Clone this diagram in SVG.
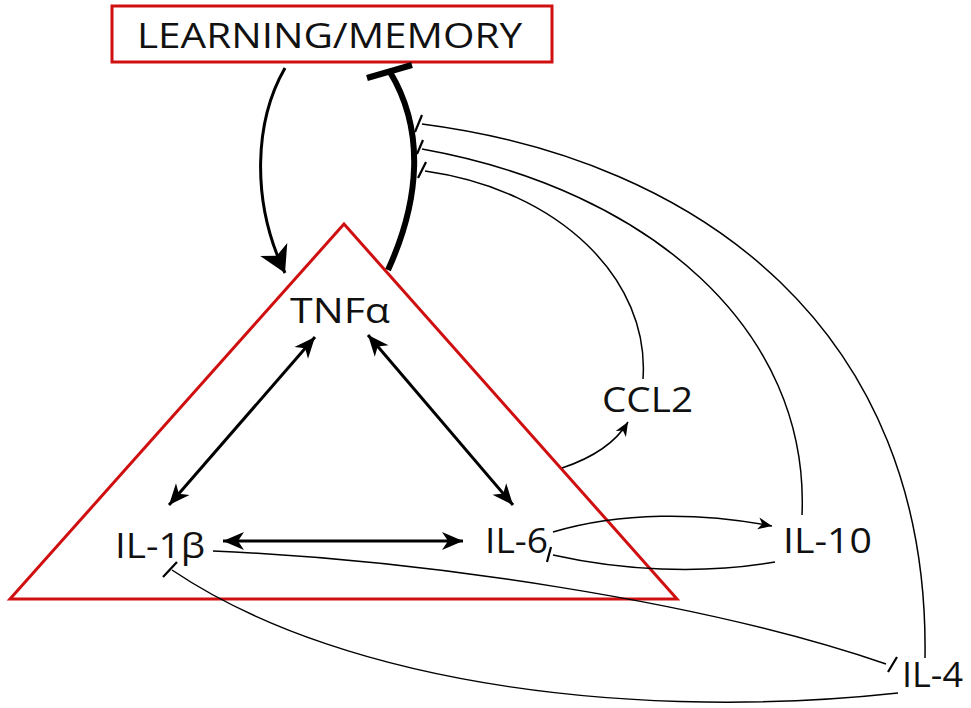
<svg xmlns="http://www.w3.org/2000/svg" width="971" height="708" viewBox="0 0 971 708">
<style>
.lbl{font-family:"Open Sans","Noto Sans","Liberation Sans",sans-serif;font-size:34px;fill:#111}
.red{fill:none;stroke:#d01010;stroke-width:3}
.thick{fill:none;stroke:#000;stroke-width:3}
.thin{fill:none;stroke:#000;stroke-width:1.5}
.bar{stroke:#000;stroke-width:2.2;stroke-linecap:butt}
</style>
<defs>
<marker id="big" markerUnits="userSpaceOnUse" markerWidth="40" markerHeight="40" viewBox="-30 -20 40 40" refX="0" refY="0" orient="auto-start-reverse" overflow="visible">
<path d="M0,0 L-26,-15 L-19,0 L-26,15 Z" fill="#000"/>
</marker>
<marker id="ah" markerUnits="userSpaceOnUse" markerWidth="30" markerHeight="30" viewBox="-25 -15 30 30" refX="0" refY="0" orient="auto-start-reverse" overflow="visible">
<path d="M0,0 L-21,-9 L-15,0 L-21,9 Z" fill="#000"/>
</marker>
<marker id="sm" markerUnits="userSpaceOnUse" markerWidth="20" markerHeight="20" viewBox="-15 -10 20 20" refX="0" refY="0" orient="auto" overflow="visible">
<path d="M0,0 L-14,-6 L-10,0 L-14,6 Z" fill="#000"/>
</marker>
</defs>

<g id="node-learning">
<rect x="112" y="6" width="440" height="56" class="red"/>
<text class="lbl" x="137" y="48" textLength="385" lengthAdjust="spacingAndGlyphs">LEARNING/MEMORY</text>
</g>
<g id="node-triangle">
<polygon points="344,224 10,599 677,599" class="red"/>
</g>
<g id="node-tnfa"><text class="lbl" x="290" y="323" textLength="100" lengthAdjust="spacingAndGlyphs">TNFα</text></g>
<g id="node-il1b"><text class="lbl" x="115" y="558" textLength="90" lengthAdjust="spacingAndGlyphs">IL-1β</text></g>
<g id="node-il6"><text class="lbl" x="485" y="553" textLength="63" lengthAdjust="spacingAndGlyphs">IL-6</text></g>
<g id="node-il10"><text class="lbl" x="783" y="553" textLength="89" lengthAdjust="spacingAndGlyphs">IL-10</text></g>
<g id="node-il4"><text class="lbl" x="902" y="687" textLength="61" lengthAdjust="spacingAndGlyphs">IL-4</text></g>
<g id="node-ccl2"><text class="lbl" x="602" y="412" textLength="91" lengthAdjust="spacingAndGlyphs">CCL2</text></g>

<g id="connectors">
<!-- learning -> TNFa -->
<path d="M285,68 C255,120 250,200 285,273" class="thick" marker-end="url(#big)"/>
<!-- TNFa -| learning -->
<path d="M388,270 C420,200 425,130 390,72" fill="none" stroke="#000" stroke-width="6"/>
<line x1="367" y1="78" x2="412" y2="65" stroke="#000" stroke-width="6"/>
<!-- triangle arrows -->
<line x1="315" y1="337" x2="169" y2="505" class="thick" marker-start="url(#ah)" marker-end="url(#ah)"/>
<line x1="368" y1="335" x2="513" y2="505" class="thick" marker-start="url(#ah)" marker-end="url(#ah)"/>
<line x1="223" y1="541" x2="463" y2="541" class="thick" marker-start="url(#ah)" marker-end="url(#ah)"/>
<!-- inhibitions onto thick curve -->
<path d="M422,124 C700,160 930,330 925,658" class="thin"/>
<line x1="422" y1="115" x2="415" y2="132" class="bar"/>
<path d="M422,149 C650,190 810,330 802,515" class="thin"/>
<line x1="423" y1="140" x2="417" y2="154" class="bar"/>
<path d="M425,171 C560,190 650,280 643,379" class="thin"/>
<line x1="426" y1="162" x2="418" y2="178" class="bar"/>
<!-- triangle -> CCL2 -->
<path d="M562,468 Q610,452 628,422" class="thin" marker-end="url(#sm)"/>
<!-- IL-6 -> IL-10 -->
<path d="M553,532 C620,512 700,512 772,526" class="thin" marker-end="url(#sm)"/>
<!-- IL-10 -| IL-6 -->
<path d="M775,562 C700,575 620,570 553,555" class="thin"/>
<line x1="551" y1="547" x2="547" y2="562" class="bar"/>
<!-- IL-1b -| IL-4 -->
<path d="M213,551 C420,560 700,600 886,664" class="thin"/>
<line x1="888" y1="672" x2="897" y2="657" class="bar"/>
<!-- IL-4 -| IL-1b -->
<path d="M898,693 C650,720 350,690 172,570" class="thin"/>
<line x1="163" y1="577" x2="177" y2="562" class="bar"/>
</g>
</svg>
